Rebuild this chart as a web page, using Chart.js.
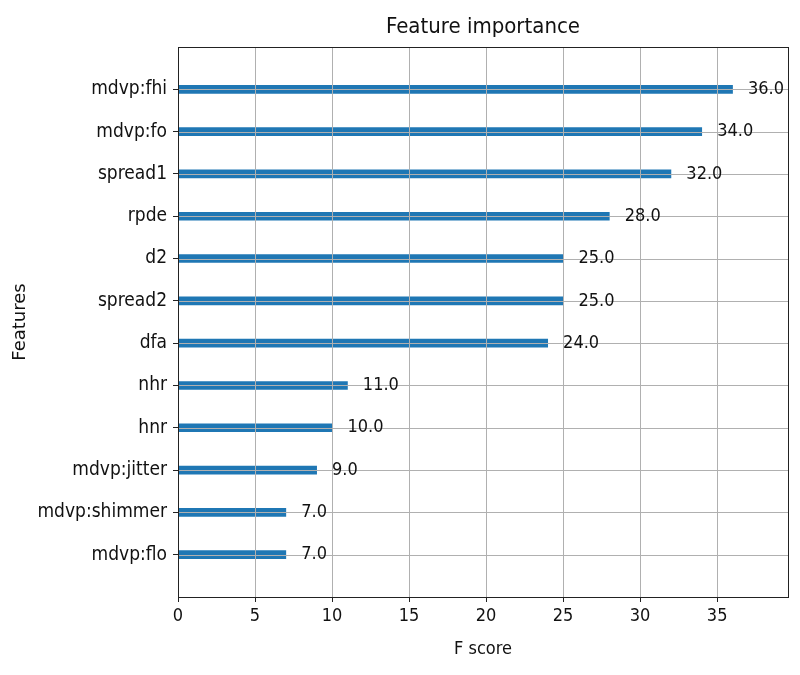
<!DOCTYPE html>
<html>
<head>
<meta charset="utf-8">
<script src="https://cdn.jsdelivr.net/npm/chart.js@4"></script>
<style>
html,body{margin:0;padding:0;background:#fff;}
#wrap{width:800px;height:675px;}
</style>
</head>
<body>
<div id="wrap"><canvas id="c" width="800" height="675"></canvas></div>
<script>
const features = ['mdvp:fhi','mdvp:fo','spread1','rpde','d2','spread2','dfa','nhr','hnr','mdvp:jitter','mdvp:shimmer','mdvp:flo'];
const fscores = [36, 34, 32, 28, 25, 25, 24, 11, 10, 9, 7, 7];
const xTicks = [0, 5, 10, 15, 20, 25, 30, 35];
const xMax = 39.6;
const chartTitle = 'Feature importance';

const labels = [''].concat(features).concat(['']);
const dataVals = [null].concat(fscores).concat([null]);
const FONT = "'DejaVu Sans Condensed', 'DejaVu Sans', sans-serif";
const FONT_WIDE = "'DejaVu Sans', sans-serif";

const overlay = {
  id: 'overlay',
  afterDatasetsDraw(chart) {
    const ctx = chart.ctx, a = chart.chartArea;
    const xs = chart.scales.x, ys = chart.scales.y;
    ctx.save();
    // grid on top of bars (matplotlib style)
    ctx.strokeStyle = '#b0b0b0';
    ctx.lineWidth = 1;
    xs.ticks.forEach(t => {
      const px = Math.round(xs.getPixelForValue(t.value)) + 0.5;
      ctx.beginPath(); ctx.moveTo(px, a.top); ctx.lineTo(px, a.bottom); ctx.stroke();
    });
    features.forEach((f, i) => {
      const py = Math.round(ys.getPixelForValue(i + 1)) + 0.5;
      ctx.beginPath(); ctx.moveTo(a.left, py); ctx.lineTo(a.right, py); ctx.stroke();
    });
    // spines
    ctx.strokeStyle = '#222';
    ctx.lineWidth = 1;
    ctx.strokeRect(Math.round(a.left) + 0.5, Math.round(a.top) + 0.5, Math.round(a.right - a.left), Math.round(a.bottom - a.top));
    // value labels
    ctx.fillStyle = '#111';
    ctx.font = '18px ' + FONT;
    ctx.textBaseline = 'middle';
    ctx.textAlign = 'left';
    fscores.forEach((v, i) => {
      ctx.fillText(v.toFixed(1), xs.getPixelForValue(v + 1), ys.getPixelForValue(i + 1));
    });
    // title centred over the axes
    ctx.font = '22px ' + FONT;
    ctx.textAlign = 'center';
    ctx.fillText(chartTitle, (a.left + a.right) / 2, 27);
    ctx.restore();
  }
};

new Chart(document.getElementById('c'), {
  type: 'bar',
  data: {
    labels: labels,
    datasets: [{
      data: dataVals,
      backgroundColor: '#1f77b4',
      borderWidth: 0,
      barThickness: 8
    }]
  },
  options: {
    indexAxis: 'y',
    responsive: false,
    animation: false,
    devicePixelRatio: 1,
    layout: { padding: { left: 0, right: 12, top: 47, bottom: 0 } },
    plugins: {
      legend: { display: false },
      tooltip: { enabled: false },
      title: { display: false }
    },
    scales: {
      x: {
        type: 'linear',
        min: 0,
        max: xMax,
        afterBuildTicks(scale) { scale.ticks = xTicks.map(v => ({ value: v })); },
        afterFit(scale) { scale.height = 78; },
        grid: { drawOnChartArea: false, lineWidth: 1, tickLength: 5, tickColor: '#222' },
        border: { display: true, color: '#222' },
        ticks: { color: '#111', font: { family: FONT, size: 18 }, padding: 4, maxRotation: 0, callback: v => String(v) },
        title: { display: true, text: 'F score', color: '#111', font: { family: FONT, size: 18 }, padding: { top: 0, bottom: 15 } }
      },
      y: {
        type: 'category',
        offset: false,
        afterFit(scale) { scale.width = 178; },
        grid: {
          offset: false,
          drawOnChartArea: false,
          lineWidth: 1, tickLength: 5,
          tickColor: ctx => (ctx.index === 0 || ctx.index === labels.length - 1) ? 'rgba(0,0,0,0)' : '#222'
        },
        border: { display: true, color: '#222' },
        ticks: { color: '#111', font: { family: FONT, size: 19 }, padding: 6, autoSkip: false },
        title: { display: true, text: 'Features', color: '#111', font: { family: FONT_WIDE, size: 18 }, padding: { top: 10, bottom: 0 } }
      }
    }
  },
  plugins: [overlay]
});
</script>
</body>
</html>
